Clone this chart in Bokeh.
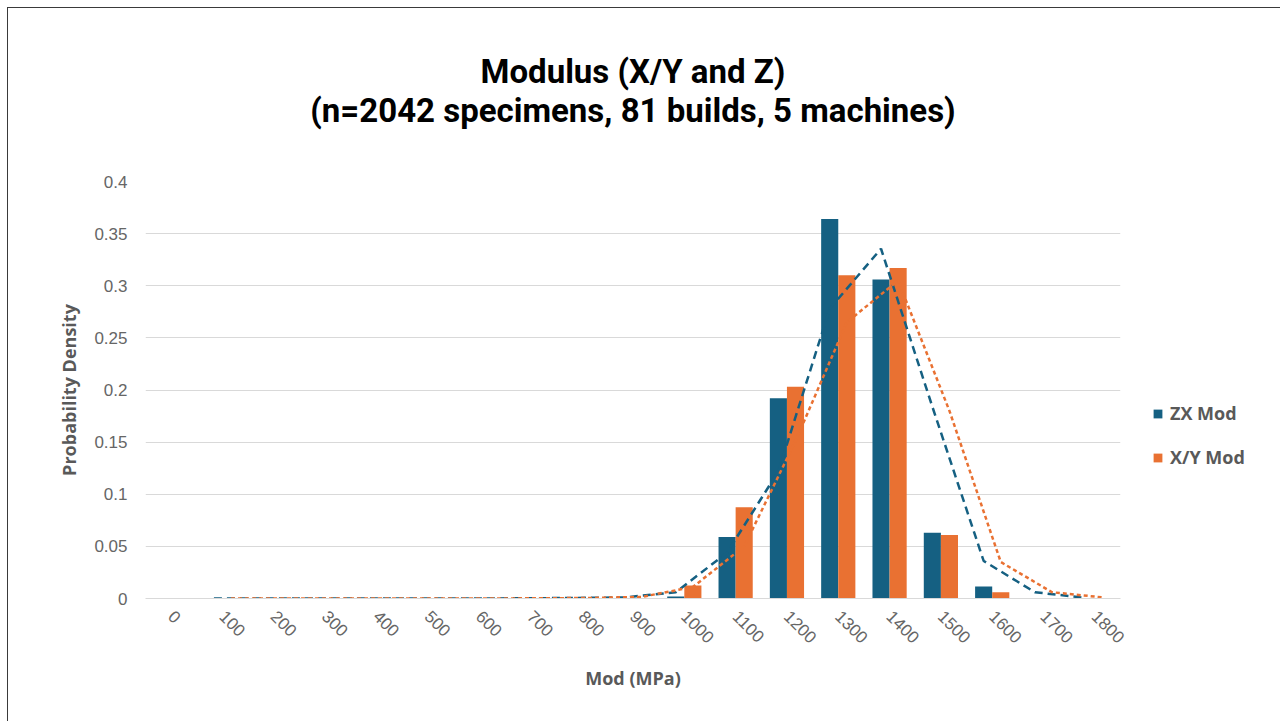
import math
from bokeh.plotting import figure
from bokeh.models import (ColumnDataSource, FactorRange, Range1d, FixedTicker,
                          Legend, LegendItem, Title)
from bokeh.transform import dodge
from bokeh.embed import file_html
from bokeh.resources import INLINE

# ---------------- data ----------------
categories = ["0", "100", "200", "300", "400", "500", "600", "700", "800", "900",
              "1000", "1100", "1200", "1300", "1400", "1500", "1600", "1700", "1800"]
zx_density = [0, 0, 0, 0, 0, 0, 0, 0, 0, 0,
              0.002, 0.059, 0.192, 0.364, 0.306, 0.063, 0.0115, 0, 0]
xy_density = [0, 0, 0, 0, 0, 0, 0, 0, 0, 0,
              0.0125, 0.0876, 0.203, 0.310, 0.317, 0.061, 0.006, 0, 0]

fit_categories = ["100", "200", "300", "400", "500", "600", "700", "800", "900",
                  "1000", "1100", "1200", "1300", "1400", "1500", "1600", "1700", "1800"]
zx_fit = [0, 0, 0, 0, 0, 0, 0.0002, 0.0005, 0.001,
          0.006, 0.044, 0.122, 0.278, 0.3355, 0.184, 0.036, 0.006, 0.0005]
xy_fit = [0, 0, 0, 0, 0, 0, 0.0002, 0.0005, 0.0015,
          0.011, 0.05, 0.151, 0.265, 0.305, 0.18, 0.035, 0.006, 0.001]

y_ticks = [0, 0.05, 0.1, 0.15, 0.2, 0.25, 0.3, 0.35, 0.4]
y_tick_labels = ["0", "0.05", "0.1", "0.15", "0.2", "0.25", "0.3", "0.35", "0.4"]

title_lines = ["Modulus (X/Y and Z)", "(n=2042 specimens, 81 builds, 5 machines)"]
x_title = "Mod (MPa)"
y_title = "Probability Density"
series_names = ["ZX Mod", "X/Y Mod"]

BLUE = "#156082"
ORANGE = "#E97132"
GREY = "#595959"
TICK_GREY = "#666666"
TICK_FONT = "Liberation Sans"
LABEL_FONT = "Open Sans"

bar_src = ColumnDataSource(dict(cat=categories, zx=zx_density, xy=xy_density))
fit_src = ColumnDataSource(dict(cat=fit_categories, zx=zx_fit, xy=xy_fit))

p = figure(x_range=FactorRange(factors=categories), y_range=Range1d(0, 0.4),
           width=1268, height=713, frame_width=975, frame_height=417,
           output_backend="svg", toolbar_location=None,
           min_border_left=137, min_border_right=156, min_border_top=173,
           min_border_bottom=123,
           styles={"outline": "1px solid #3a3a3a"})
p.margin = (8, 0, 0, 8)
p.outline_line_color = None
p.background_fill_color = "white"
p.border_fill_color = "white"

r_zx = p.vbar(x=dodge("cat", -1/6, range=p.x_range), top="zx", width=1/3,
              source=bar_src, fill_color=BLUE, line_color=None)
r_xy = p.vbar(x=dodge("cat", 1/6, range=p.x_range), top="xy", width=1/3,
              source=bar_src, fill_color=ORANGE, line_color=None)

p.line(x=dodge("cat", -1/6, range=p.x_range), y="zx", source=fit_src,
       line_color=BLUE, line_width=2.5, line_dash="8 5")
p.line(x=dodge("cat", 1/6, range=p.x_range), y="xy", source=fit_src,
       line_color=ORANGE, line_width=2.5, line_dash="4 3")

# grid
p.xgrid.grid_line_color = None
p.ygrid.grid_line_color = "#d9d9d9"
p.ygrid.grid_line_width = 1.2

# y axis
p.yaxis.ticker = FixedTicker(ticks=y_ticks)
p.yaxis.major_label_overrides = {t: s for t, s in zip(y_ticks, y_tick_labels)}
p.yaxis.axis_line_color = None
p.yaxis.major_tick_line_color = None
p.yaxis.minor_tick_line_color = None
p.yaxis.major_label_text_color = TICK_GREY
p.yaxis.major_label_text_font = TICK_FONT
p.yaxis.major_label_text_font_size = "17px"
p.yaxis.major_label_standoff = 12
p.yaxis.axis_label = y_title
p.yaxis.axis_label_text_font = LABEL_FONT
p.yaxis.axis_label_text_font_style = "bold"
p.yaxis.axis_label_text_font_size = "18px"
p.yaxis.axis_label_text_color = GREY
p.yaxis.axis_label_standoff = 10

# x axis
p.xaxis.axis_line_color = "#d9d9d9"
p.xaxis.axis_line_width = 1.2
p.xaxis.major_tick_line_color = None
p.xaxis.minor_tick_line_color = None
p.xaxis.major_label_orientation = -math.pi / 4
p.xaxis.major_label_text_color = TICK_GREY
p.xaxis.major_label_text_font = TICK_FONT
p.xaxis.major_label_text_font_size = "17px"
p.xaxis.major_label_standoff = 9
p.xaxis.axis_label = x_title
p.xaxis.axis_label_text_font = LABEL_FONT
p.xaxis.axis_label_text_font_style = "bold"
p.xaxis.axis_label_text_font_size = "18px"
p.xaxis.axis_label_text_color = GREY
p.xaxis.axis_label_standoff = 14

# two-line title
p.add_layout(Title(text="\n".join(title_lines), align="center", text_align="center",
                   text_font="Roboto", text_font_style="bold",
                   text_font_size="33px", text_line_height=1.0,
                   text_color="black", standoff=76, padding=(0, 0, 0, 14)),
             "above")

legend = Legend(items=[LegendItem(label=series_names[0], renderers=[r_zx]),
                       LegendItem(label=series_names[1], renderers=[r_xy])],
                location=(32, 129), orientation="vertical",
                border_line_color=None, background_fill_alpha=0,
                glyph_width=11, glyph_height=11, label_height=20, spacing=20,
                padding=0, margin=0, label_standoff=7,
                label_text_font=LABEL_FONT, label_text_font_size="18px",
                label_text_font_style="bold", label_text_color=GREY)
p.add_layout(legend, "right")

open("out.html", "w").write(file_html(p, INLINE))
